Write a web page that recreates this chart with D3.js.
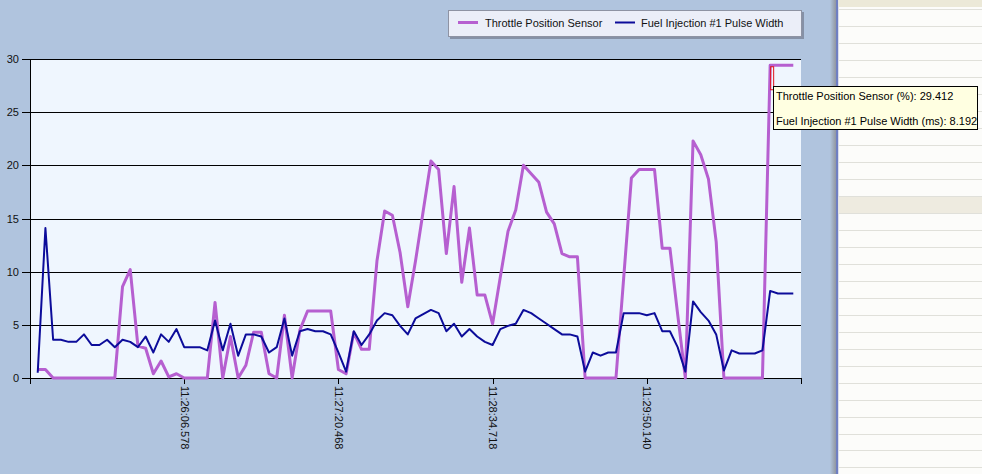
<!DOCTYPE html>
<html>

<head>
    <title>Throttle / Fuel Injection</title>
    <meta charset="UTF-8">
    <script src="https://d3js.org/d3.v7.min.js"></script>
    <style type="text/css">
        body { margin: 0; background: #fff; }
        svg { display: block; font-family: "Liberation Sans", Arial, sans-serif; }
    </style>
</head>

<body>
    <script type="text/javascript">
        // Sample data (samples 1..99)
        var throttle = [0.8, 0.8, 0, 0, 0, 0, 0, 0, 0, 0,
            0, 8.6, 10.2, 3.0, 2.8, 0.4, 1.6, 0.1, 0.4, 0,
            0, 0, 0, 7.1, 0, 3.9, 0, 1.2, 4.3, 4.3,
            0.4, 0, 5.9, 0, 4.5, 6.3, 6.3, 6.3, 6.3, 0.8,
            0.4, 4.3, 2.7, 2.7, 11.0, 15.7, 15.3, 11.8, 6.7, 11.0,
            15.7, 20.4, 19.6, 11.7, 18.0, 9.0, 14.1, 7.8, 7.8, 5.1,
            9.5, 13.8, 15.8, 20.0, 19.2, 18.4, 15.6, 14.5, 11.7, 11.4,
            11.4, 0, 0, 0, 0, 0, 9.4, 18.8, 19.6, 19.6,
            19.6, 12.2, 12.2, 6.0, 0, 22.3, 21.0, 18.7, 12.8, 0,
            0, 0, 0, 0, 0, 29.412, 29.412, 29.412, 29.412];

        var fuel = [0.5, 14.1, 3.6, 3.6, 3.4, 3.4, 4.1, 3.1, 3.1, 3.6,
            2.9, 3.6, 3.4, 2.9, 3.9, 2.4, 4.1, 3.4, 4.6, 2.9,
            2.9, 2.9, 2.6, 5.4, 2.6, 5.1, 2.1, 4.1, 4.1, 3.9,
            2.4, 2.9, 5.6, 2.1, 4.4, 4.6, 4.4, 4.4, 4.1, 2.4,
            0.6, 4.4, 3.1, 4.1, 5.4, 6.1, 5.9, 4.9, 4.1, 5.6,
            6.0, 6.4, 6.1, 4.4, 5.1, 3.9, 4.6, 3.9, 3.4, 3.1,
            4.6, 4.9, 5.1, 6.4, 6.1, 5.6, 5.1, 4.6, 4.1, 4.1,
            3.9, 0.6, 2.4, 2.1, 2.4, 2.4, 6.1, 6.1, 6.1, 5.9,
            6.1, 4.4, 4.4, 2.9, 0.6, 7.2, 6.2, 5.4, 4.1, 0.7,
            2.6, 2.3, 2.3, 2.3, 2.6, 8.192, 7.95, 7.95, 7.95];

        var seriesNames = ["Throttle Position Sensor", "Fuel Injection #1 Pulse Width"];
        var xTickIndex = [0, 20, 40, 60, 80, 100];
        var xTickLabels = ["", "11:26:06.578", "11:27:20.468", "11:28:34.718", "11:29:50.140", ""];
        var yTicks = [0, 5, 10, 15, 20, 25, 30];
        var hoverIndex = 96;
        var tooltipLines = ["Throttle Position Sensor (%): 29.412", "Fuel Injection #1 Pulse Width (ms): 8.192"];

        var W = 982, H = 474;
        var margin = { top: 59, left: 30 },
            width = 771,
            height = 319;

        var svg = d3.select("body").append("svg")
            .attr("width", W)
            .attr("height", H);

        // shading for the splitter between chart and the side list
        var defs = svg.append("defs");
        var grad = defs.append("linearGradient").attr("id", "split");
        grad.append("stop").attr("offset", "0%").attr("stop-color", "#b0c4de");
        grad.append("stop").attr("offset", "100%").attr("stop-color", "#8c8f96");

        // Chart panel background
        svg.append("rect").attr("x", 0).attr("y", 0).attr("width", 832).attr("height", H).attr("fill", "#b0c4de");
        svg.append("rect").attr("x", 830).attr("y", 0).attr("width", 7).attr("height", H).attr("fill", "url(#split)");
        svg.append("rect").attr("x", 836).attr("y", 0).attr("width", 2.5).attr("height", H).attr("fill", "#6f7fc2");

        // Side list panel
        var side = svg.append("g").attr("transform", "translate(838.5,0)");
        side.append("rect").attr("width", W - 838.5).attr("height", H).attr("fill", "#fcfcfa");
        side.append("rect").attr("width", W - 838.5).attr("height", 7).attr("fill", "#ece9d8");
        side.append("rect").attr("y", 197).attr("width", W - 838.5).attr("height", 16).attr("fill", "#eeebe0");
        var rows = d3.range(0, 28).map(function (i) { return 9 + i * 16.98; });
        side.selectAll("line.row")
            .data(rows)
            .enter().append("line")
            .attr("class", "row")
            .attr("x1", 0).attr("x2", W - 838.5)
            .attr("y1", function (d) { return Math.round(d) + 0.5; })
            .attr("y2", function (d) { return Math.round(d) + 0.5; })
            .attr("stroke", "#e0e0da");

        // Scales
        var x = d3.scaleLinear().domain([0, 100]).range([0, width]);
        var y = d3.scaleLinear().domain([0, 30]).range([height, 0]);

        var g = svg.append("g")
            .attr("transform", "translate(" + margin.left + "," + margin.top + ")");

        g.append("rect")
            .attr("width", width)
            .attr("height", height)
            .attr("fill", "#eff6fe");

        // Horizontal grid lines
        var grid = g.append("g")
            .attr("class", "grid")
            .call(d3.axisLeft(y).tickValues(yTicks).tickSize(-width).tickFormat(""));
        grid.select(".domain").remove();
        grid.selectAll("line").attr("stroke", "#000").attr("shape-rendering", "crispEdges");

        // Axes
        var yAxis = g.append("g")
            .call(d3.axisLeft(y).tickValues(yTicks).tickSize(8).tickPadding(3));
        var xAxis = g.append("g")
            .attr("transform", "translate(0," + height + ")")
            .call(d3.axisBottom(x).tickValues(xTickIndex).tickSize(6)
                .tickFormat(function (d, i) { return xTickLabels[i]; }));

        [xAxis, yAxis].forEach(function (ax) {
            ax.select(".domain").attr("stroke", "#000").attr("shape-rendering", "crispEdges");
            ax.selectAll(".tick line").attr("stroke", "#000").attr("shape-rendering", "crispEdges");
            ax.selectAll("text").attr("fill", "#111").style("font-size", "11px")
                .style("font-family", "'Liberation Sans', Arial, sans-serif");
        });
        yAxis.select(".domain").attr("d", "M0,0V" + height);
        xAxis.select(".domain").attr("d", "M0,0H" + width);

        xAxis.selectAll("text")
            .attr("transform", "rotate(90)")
            .attr("x", 8)
            .attr("y", 0)
            .attr("dy", "0.35em")
            .style("text-anchor", "start");

        // Lines
        var lineT = d3.line()
            .x(function (d, i) { return x(i + 1); })
            .y(function (d) { return y(d); });

        g.append("path")
            .datum(throttle)
            .attr("fill", "none")
            .attr("stroke", "#b65fd0")
            .attr("stroke-width", 3)
            .attr("stroke-linejoin", "round")
            .attr("d", lineT);

        g.append("path")
            .datum(fuel)
            .attr("fill", "none")
            .attr("stroke", "#0c0c9a")
            .attr("stroke-width", 2)
            .attr("stroke-linejoin", "round")
            .attr("d", lineT);

        // hover marker on the selected sample
        g.append("rect")
            .attr("x", x(hoverIndex) + 0.5)
            .attr("y", y(throttle[hoverIndex - 1]) + 1.5)
            .attr("width", 3)
            .attr("height", 23)
            .attr("fill", "none")
            .attr("stroke", "#e0101a")
            .attr("stroke-width", 1);

        // Legend
        var legend = svg.append("g").attr("transform", "translate(448,10)");
        legend.append("rect").attr("x", 2).attr("y", 2).attr("width", 354).attr("height", 27).attr("fill", "#6a7080").attr("opacity", 0.6);
        legend.append("rect").attr("x", 0.5).attr("y", 0.5).attr("width", 353).attr("height", 26)
            .attr("fill", "#ebeef8").attr("stroke", "#8e93a3");
        var legendItems = [
            { name: seriesNames[0], color: "#b65fd0", w: 3, x0: 10, tx: 37 },
            { name: seriesNames[1], color: "#0c0c9a", w: 2, x0: 167, tx: 193 }
        ];
        legendItems.forEach(function (it) {
            legend.append("line")
                .attr("x1", it.x0).attr("x2", it.x0 + 20)
                .attr("y1", 12.5).attr("y2", 12.5)
                .attr("stroke", it.color).attr("stroke-width", it.w);
            legend.append("text")
                .attr("x", it.tx).attr("y", 17)
                .style("font-size", "11px")
                .attr("fill", "#111")
                .text(it.name);
        });

        // Tooltip
        var tip = svg.append("g").attr("transform", "translate(773,86)");
        tip.append("rect").attr("x", 0.5).attr("y", 0.5).attr("width", 204).attr("height", 43)
            .attr("fill", "#ffffe1").attr("stroke", "#000");
        tip.selectAll("text")
            .data(tooltipLines)
            .enter().append("text")
            .attr("x", 3)
            .attr("y", function (d, i) { return 14 + i * 25; })
            .style("font-size", "11px")
            .attr("fill", "#000")
            .text(function (d) { return d; });
    </script>
</body>

</html>
